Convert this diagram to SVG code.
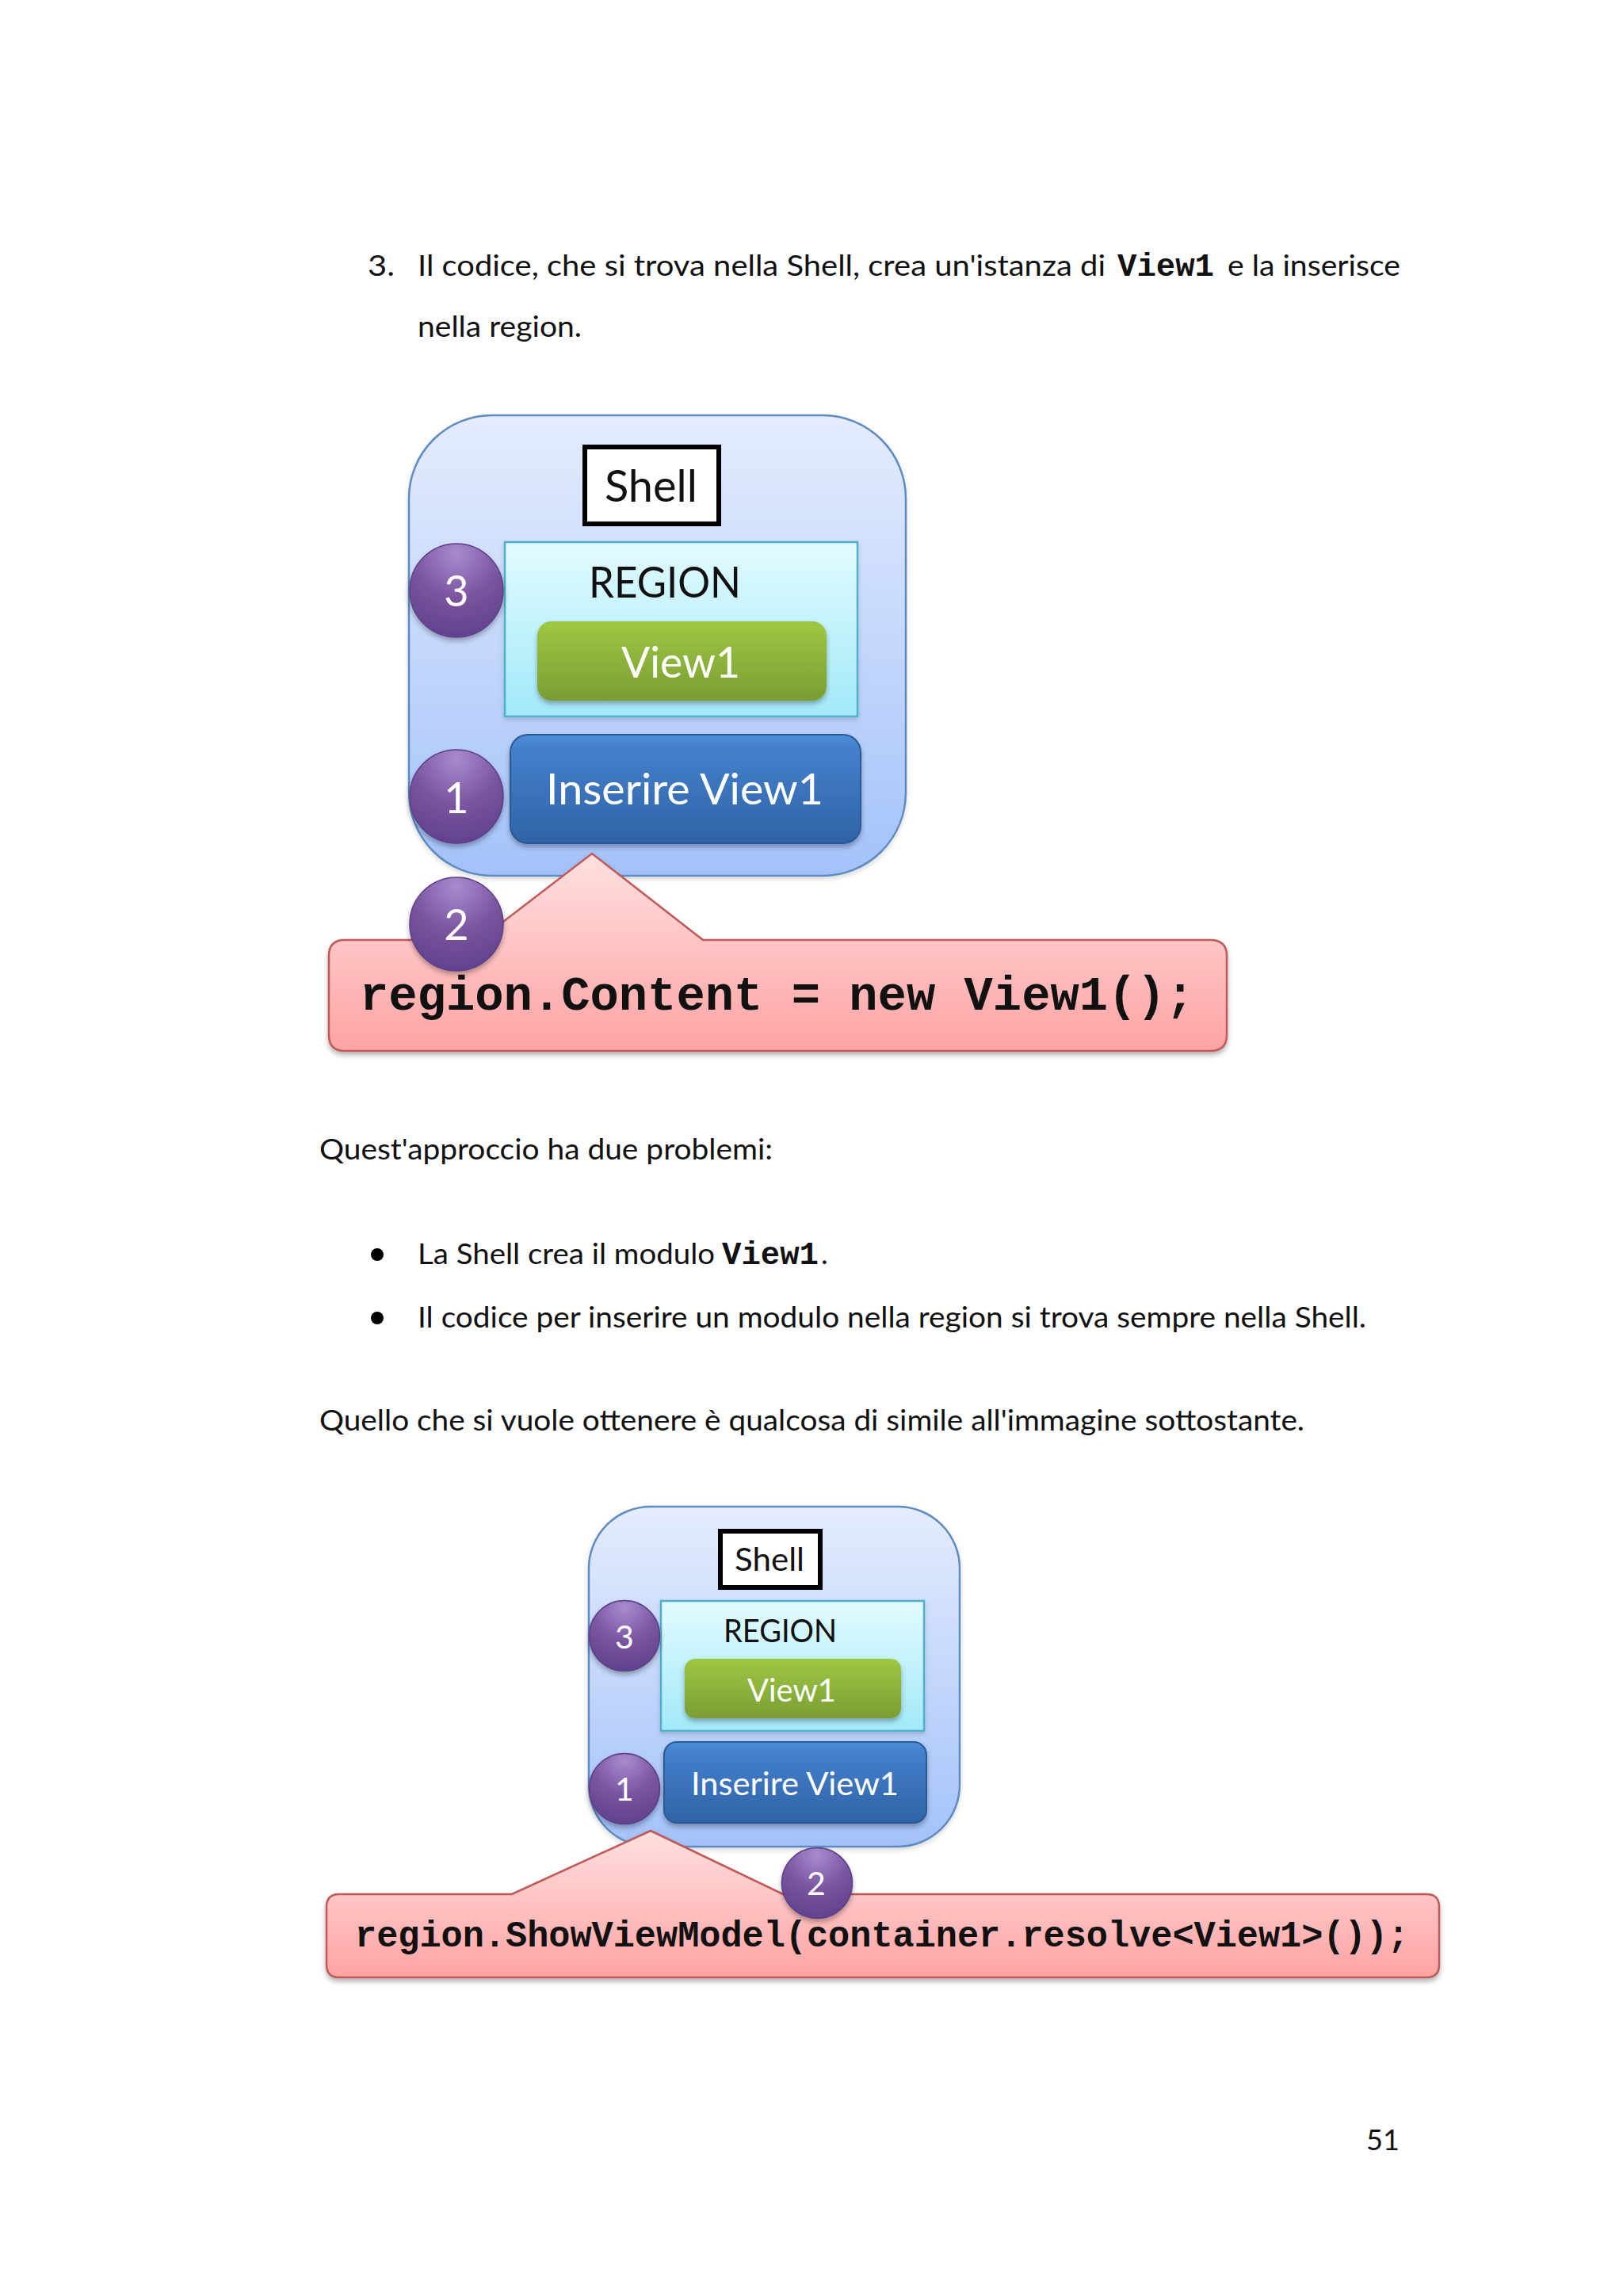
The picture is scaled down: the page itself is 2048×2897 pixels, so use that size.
<svg xmlns="http://www.w3.org/2000/svg" width="2048" height="2897" viewBox="0 0 2048 2897">
<style>
.b{font-family:Lato,"Noto Sans",sans-serif;font-size:37px;fill:#111}
.m{font-family:"Liberation Mono",monospace;font-weight:bold;font-size:40px;fill:#111}
.code{font-family:"Liberation Mono",monospace;font-weight:bold;fill:#111}
.l{font-family:Lato,"Noto Sans",sans-serif;fill:#111}
.w{font-family:Lato,"Noto Sans",sans-serif;fill:#fff}
.shell{fill:url(#gs);stroke:#5f8cc0;stroke-width:2.5;filter:url(#sl)}
.box{fill:#fff;stroke:#000;stroke-width:6}
.reg{fill:url(#gr);stroke:#4fb0c8;stroke-width:2.5;filter:url(#sl)}
.view{fill:url(#gg);filter:url(#sh)}
.ins{fill:url(#gb);stroke:#2a5a96;stroke-width:2;filter:url(#sh)}
.call{fill:url(#gc);stroke:#bf5a58;stroke-width:2.5;filter:url(#sh)}
.num{fill:url(#gp);stroke:#5b3f88;stroke-width:1.5;filter:url(#sh)}
</style>
<defs>
<linearGradient id="gs" x1="0" y1="0" x2="0" y2="1"><stop offset="0" stop-color="#e4ecfd"/><stop offset="1" stop-color="#a4c2fa"/></linearGradient>
<linearGradient id="gr" x1="0" y1="0" x2="0" y2="1"><stop offset="0" stop-color="#e2fbff"/><stop offset="1" stop-color="#a2e9f8"/></linearGradient>
<linearGradient id="gg" x1="0" y1="0" x2="0" y2="1"><stop offset="0" stop-color="#9ec843"/><stop offset="1" stop-color="#7b9d34"/></linearGradient>
<linearGradient id="gb" x1="0" y1="0" x2="0" y2="1"><stop offset="0" stop-color="#4f8fda"/><stop offset="0.12" stop-color="#4480cc"/><stop offset="1" stop-color="#2f63a6"/></linearGradient>
<linearGradient id="gc" x1="0" y1="0" x2="0" y2="1"><stop offset="0" stop-color="#ffe0e0"/><stop offset="1" stop-color="#ffa3a3"/></linearGradient>
<radialGradient id="gp" cx="0.5" cy="0.1" r="0.95"><stop offset="0" stop-color="#a88bcf"/><stop offset="0.5" stop-color="#7a559f"/><stop offset="1" stop-color="#5f3f8c"/></radialGradient>
<filter id="sh" x="-10%" y="-10%" width="120%" height="125%"><feDropShadow dx="0" dy="4" stdDeviation="3" flood-color="#000" flood-opacity="0.3"/></filter>
<filter id="sl" x="-5%" y="-5%" width="110%" height="110%"><feDropShadow dx="0" dy="3" stdDeviation="3" flood-color="#000" flood-opacity="0.15"/></filter>
</defs>
<rect width="2048" height="2897" fill="#fff"/>

<g id="text-top">
<text class="b" x="464" y="348" textLength="34" lengthAdjust="spacingAndGlyphs">3.</text>
<text class="b" x="527" y="348" textLength="868" lengthAdjust="spacingAndGlyphs">Il codice, che si trova nella Shell, crea un'istanza di</text>
<text class="m" x="1410" y="348" textLength="122" lengthAdjust="spacingAndGlyphs">View1</text>
<text class="b" x="1549" y="348" textLength="218" lengthAdjust="spacingAndGlyphs">e la inserisce</text>
<text class="b" x="527" y="425" textLength="207" lengthAdjust="spacingAndGlyphs">nella region.</text>
</g>

<g id="fig1-shell"><rect class="shell" x="516" y="524" width="627" height="581" rx="105"/>
<rect class="box" x="738" y="564" width="169" height="97"/>
<text class="l" x="763" y="633" font-size="56" textLength="117" lengthAdjust="spacingAndGlyphs">Shell</text></g>
<g id="fig1-region"><rect class="reg" x="637" y="684" width="445" height="220"/>
<text class="l" x="743" y="754" font-size="54" textLength="192" lengthAdjust="spacingAndGlyphs">REGION</text></g>
<g id="fig1-view1"><rect class="view" x="678" y="784" width="365" height="100" rx="18"/>
<text class="w" x="784" y="855" font-size="54" textLength="150" lengthAdjust="spacingAndGlyphs">View1</text></g>
<g id="fig1-inserire"><rect class="ins" x="644" y="927" width="442" height="137" rx="22"/>
<text class="w" x="689" y="1015" font-size="54" textLength="350" lengthAdjust="spacingAndGlyphs">Inserire View1</text></g>
<g id="fig1-callout"><path class="call" d="M435,1186H605L747,1077L887,1186H1527Q1548,1186 1548,1206V1306Q1548,1326 1527,1326H435Q415,1326 415,1306V1206Q415,1186 435,1186Z"/>
<text class="code" x="454" y="1274" font-size="60.5" textLength="1053" lengthAdjust="spacing">region.Content = new View1();</text></g>
<g id="fig1-n3"><ellipse class="num" cx="576" cy="745" rx="59" ry="59"/><text class="w" x="576" y="765" font-size="54" text-anchor="middle">3</text></g>
<g id="fig1-n1"><ellipse class="num" cx="576" cy="1005" rx="59" ry="59"/><text class="w" x="576" y="1026" font-size="54" text-anchor="middle">1</text></g>
<g id="fig1-n2"><ellipse class="num" cx="576" cy="1166" rx="59" ry="59"/><text class="w" x="576" y="1186" font-size="54" text-anchor="middle">2</text></g>

<g id="text-middle">
<text class="b" x="403" y="1463" textLength="572" lengthAdjust="spacingAndGlyphs">Quest'approccio ha due problemi:</text>
<circle cx="476" cy="1583" r="8" fill="#000"/>
<text class="b" x="527" y="1595" textLength="375" lengthAdjust="spacingAndGlyphs">La Shell crea il modulo</text>
<text class="m" x="911" y="1595" textLength="122" lengthAdjust="spacingAndGlyphs">View1</text>
<text class="b" x="1036" y="1595">.</text>
<circle cx="476" cy="1663" r="8" fill="#000"/>
<text class="b" x="527" y="1675" textLength="1197" lengthAdjust="spacingAndGlyphs">Il codice per inserire un modulo nella region si trova sempre nella Shell.</text>
<text class="b" x="403" y="1805" textLength="1243" lengthAdjust="spacingAndGlyphs">Quello che si vuole ottenere è qualcosa di simile all'immagine sottostante.</text>
</g>

<g id="fig2-shell"><rect class="shell" x="743" y="1901" width="468" height="429" rx="78"/>
<rect class="box" x="909" y="1932" width="126" height="71"/>
<text class="l" x="927" y="1982" font-size="41" textLength="88" lengthAdjust="spacingAndGlyphs">Shell</text></g>
<g id="fig2-region"><rect class="reg" x="834" y="2020" width="332" height="164"/>
<text class="l" x="913" y="2072" font-size="41" textLength="143" lengthAdjust="spacingAndGlyphs">REGION</text></g>
<g id="fig2-view1"><rect class="view" x="864" y="2093" width="273" height="75" rx="13"/>
<text class="w" x="943" y="2147" font-size="41" textLength="112" lengthAdjust="spacingAndGlyphs">View1</text></g>
<g id="fig2-inserire"><rect class="ins" x="838" y="2198" width="331" height="102" rx="16"/>
<text class="w" x="872" y="2265" font-size="41" textLength="262" lengthAdjust="spacingAndGlyphs">Inserire View1</text></g>
<g id="fig2-callout"><path class="call" d="M428,2390H646L821,2310L988,2390H1800Q1816,2390 1816,2406V2479Q1816,2495 1800,2495H428Q412,2495 412,2479V2406Q412,2390 428,2390Z"/>
<text class="code" x="448" y="2456" font-size="45.3" textLength="1330" lengthAdjust="spacing">region.ShowViewModel(container.resolve&lt;View1&gt;());</text></g>
<g id="fig2-n3"><ellipse class="num" cx="788" cy="2064" rx="44.5" ry="44.5"/><text class="w" x="788" y="2080" font-size="41" text-anchor="middle">3</text></g>
<g id="fig2-n1"><ellipse class="num" cx="788" cy="2257" rx="44.5" ry="44.5"/><text class="w" x="788" y="2272" font-size="41" text-anchor="middle">1</text></g>
<g id="fig2-n2"><ellipse class="num" cx="1031" cy="2376" rx="44.5" ry="44.5"/><text class="w" x="1030" y="2391" font-size="41" text-anchor="middle">2</text></g>

<g id="page-number"><text class="b" x="1724" y="2713" textLength="42" lengthAdjust="spacingAndGlyphs">51</text></g>
</svg>
